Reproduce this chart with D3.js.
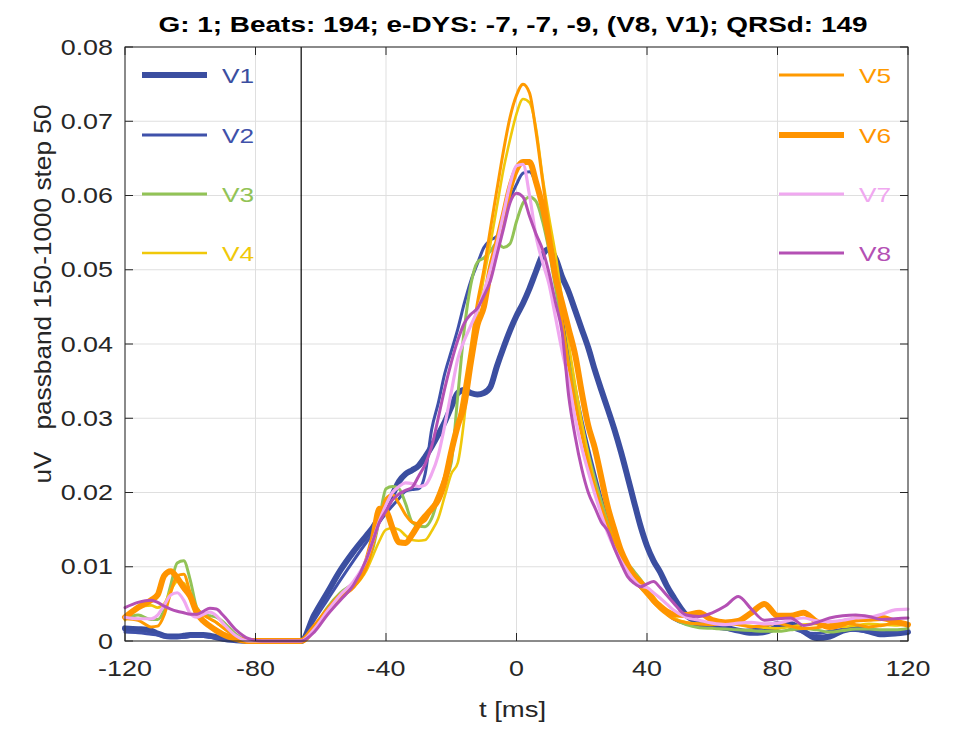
<!DOCTYPE html>
<html><head><meta charset="utf-8">
<script src="https://cdn.jsdelivr.net/npm/d3@7"></script>
<style>body{margin:0;background:#fff}svg{display:block}text{font-family:"Liberation Sans",Arial,Helvetica,sans-serif}</style>
</head><body><svg id="c" width="963" height="729"></svg>
<script>
const title = "G: 1; Beats: 194; e-DYS: -7, -7, -9, (V8, V1); QRSd: 149";
const xLabel = "t [ms]";
const yLabel = "uV   passband 150-1000 step 50";
const xTicks = [-120, -80, -40, 0, 40, 80, 120];
const yTicks = [0, 0.01, 0.02, 0.03, 0.04, 0.05, 0.06, 0.07, 0.08];
const markerT = -66;
const leads = ["V1","V2","V3","V4","V5","V6","V7","V8"];
const colors = ["#3b4ea0","#3f51aa","#92c356","#f0c80a","#ff9a00","#ff9400","#f0a8f0","#b450b4"];
const widths = [6, 3, 3, 2.6, 3, 6, 3.2, 3];
const t = [-120,-116,-112,-110,-108,-106,-104,-102,-100,-98,-96,-94,-92,-90,-86,-82,-78,-70,-66,-62,-58,-54,-50,-46,-44,-42,-40,-38,-36,-34,-32,-30,-28,-26,-24,-22,-20,-18,-16,-14,-12,-10,-8,-6,-4,-2,0,2,4,6,8,10,12,14,16,18,20,22,24,26,28,30,32,34,36,38,40,42,44,46,48,52,56,60,64,68,72,76,80,84,88,92,96,100,104,108,112,116,120];
const V1 = [0.0017,0.0016,0.0014,0.0010,0.0007,0.0006,0.0006,0.0007,0.0008,0.0008,0.0008,0.0007,0.0005,0.0003,0.0001,0,0,0,0,0.0035,0.0065,0.0095,0.012,0.0142,0.0153,0.0167,0.018,0.0197,0.0215,0.0225,0.023,0.0236,0.0248,0.0262,0.0278,0.0295,0.0315,0.0334,0.0338,0.0334,0.0332,0.0334,0.0342,0.037,0.0395,0.0418,0.0438,0.0455,0.0475,0.0498,0.052,0.0528,0.0515,0.049,0.047,0.0445,0.042,0.0395,0.0365,0.0338,0.0312,0.0285,0.0255,0.0222,0.0188,0.0155,0.0128,0.0108,0.0093,0.0075,0.006,0.0035,0.0025,0.0021,0.0018,0.0014,0.0011,0.0012,0.0019,0.0023,0.0013,0.0004,0.0006,0.0014,0.0017,0.0013,0.0009,0.001,0.0012];
const V2 = [0.0012,0.0011,0.0009,0.0008,0.0006,0.0005,0.0005,0.0005,0.0006,0.0006,0.0006,0.0005,0.0004,0.0002,0.0001,0,0,0,0,0.0028,0.0055,0.0082,0.0108,0.0133,0.0145,0.016,0.0172,0.0182,0.0192,0.0202,0.0204,0.0205,0.0225,0.0285,0.032,0.036,0.039,0.042,0.0455,0.0485,0.0508,0.053,0.054,0.0545,0.0565,0.0595,0.0615,0.063,0.0632,0.0615,0.058,0.0535,0.0485,0.0435,0.0385,0.034,0.0298,0.026,0.0225,0.0192,0.0163,0.0135,0.0112,0.0095,0.0082,0.0072,0.0064,0.0055,0.0045,0.0037,0.003,0.0023,0.0021,0.0018,0.0016,0.0014,0.0015,0.0019,0.0025,0.0018,0.0012,0.001,0.0013,0.0015,0.0014,0.0012,0.0011,0.0012,0.0014];
const V3 = [0.003,0.0035,0.0029,0.0029,0.0042,0.0075,0.0105,0.0108,0.0082,0.0045,0.0036,0.0034,0.0032,0.0026,0.0009,0,0,0,0,0.0018,0.0045,0.0065,0.0078,0.0102,0.0125,0.0165,0.0205,0.0208,0.0205,0.0185,0.016,0.0155,0.0154,0.0165,0.0192,0.0215,0.024,0.033,0.042,0.048,0.051,0.0516,0.0525,0.0536,0.053,0.0535,0.0565,0.059,0.0598,0.0592,0.0565,0.0525,0.0475,0.0425,0.0375,0.0332,0.029,0.0252,0.0218,0.0188,0.016,0.0138,0.012,0.0105,0.0094,0.0083,0.0071,0.0058,0.0047,0.0038,0.0031,0.0022,0.0018,0.0017,0.0016,0.0015,0.0014,0.0013,0.0013,0.0015,0.0017,0.0015,0.0012,0.0014,0.0016,0.0016,0.0015,0.0015,0.0017];
const V4 = [0.0028,0.0045,0.0048,0.0045,0.005,0.0068,0.008,0.0078,0.0062,0.0045,0.0035,0.003,0.0025,0.0018,0.0006,0,0,0,0,0.0015,0.004,0.006,0.0072,0.0095,0.0115,0.0135,0.015,0.0152,0.015,0.0142,0.0136,0.0135,0.0136,0.0148,0.0165,0.0195,0.0225,0.024,0.030,0.039,0.044,0.049,0.0535,0.0585,0.0635,0.0675,0.071,0.073,0.0725,0.069,0.0625,0.057,0.052,0.046,0.040,0.0345,0.0295,0.025,0.021,0.0178,0.0155,0.0135,0.0118,0.0104,0.0092,0.0082,0.0072,0.006,0.0048,0.0039,0.0032,0.0025,0.0023,0.0023,0.0024,0.0022,0.002,0.0018,0.0017,0.0019,0.0022,0.0023,0.002,0.0019,0.0021,0.0023,0.0022,0.0021,0.0022];
const V5 = [0.003,0.0028,0.0019,0.002,0.0035,0.0065,0.0088,0.009,0.0065,0.0044,0.0036,0.003,0.0025,0.0018,0.0006,0,0,0,0,0.0018,0.0042,0.0062,0.0078,0.0105,0.013,0.0165,0.0192,0.0197,0.0185,0.017,0.016,0.0158,0.0162,0.0178,0.0198,0.0222,0.025,0.029,0.034,0.0395,0.0455,0.05,0.0555,0.0608,0.066,0.0705,0.0735,0.075,0.0738,0.0685,0.062,0.0555,0.0495,0.043,0.037,0.032,0.0278,0.024,0.0208,0.018,0.0155,0.0132,0.0112,0.0096,0.0083,0.0072,0.0062,0.0052,0.0043,0.0036,0.003,0.0025,0.0023,0.0022,0.0024,0.0022,0.0019,0.0021,0.0024,0.002,0.0017,0.0018,0.0022,0.0025,0.0022,0.0019,0.0021,0.0024,0.0022];
const V6 = [0.0032,0.0045,0.0055,0.0062,0.0088,0.0094,0.0085,0.0072,0.006,0.0038,0.0027,0.002,0.0014,0.0009,0.0003,0,0,0,0,0.0018,0.004,0.006,0.0075,0.0105,0.0138,0.0178,0.0175,0.0152,0.0133,0.0132,0.0143,0.0157,0.0168,0.0178,0.019,0.0215,0.0255,0.029,0.0318,0.0375,0.0425,0.045,0.05,0.0535,0.0572,0.061,0.0635,0.0645,0.0645,0.0618,0.0585,0.054,0.049,0.0455,0.042,0.0385,0.0335,0.029,0.026,0.022,0.018,0.015,0.0122,0.0103,0.0088,0.0079,0.0067,0.0055,0.0047,0.004,0.0036,0.0035,0.0038,0.0028,0.0025,0.0027,0.0038,0.005,0.0034,0.0034,0.0038,0.0026,0.0019,0.0023,0.0029,0.003,0.0031,0.0026,0.0022];
const V7 = [0.0032,0.003,0.003,0.0035,0.0048,0.0062,0.0065,0.0055,0.0037,0.0032,0.0036,0.0039,0.0034,0.0024,0.0007,0,0,0,0,0.0016,0.004,0.0062,0.008,0.011,0.0135,0.0162,0.0183,0.02,0.0208,0.0213,0.0212,0.0208,0.021,0.0225,0.025,0.029,0.0335,0.038,0.0405,0.0425,0.0445,0.047,0.05,0.0535,0.0575,0.0615,0.064,0.0642,0.060,0.0545,0.051,0.048,0.0435,0.039,0.035,0.030,0.026,0.0228,0.0198,0.017,0.0145,0.0125,0.0108,0.0094,0.0082,0.0074,0.0072,0.0065,0.0058,0.005,0.0042,0.0032,0.0028,0.0024,0.0022,0.0024,0.0025,0.0023,0.0024,0.0028,0.0031,0.0027,0.0026,0.0028,0.0031,0.0032,0.0036,0.0042,0.0043];
const V8 = [0.0045,0.0052,0.0055,0.0052,0.0047,0.0043,0.004,0.0038,0.0036,0.0036,0.004,0.0044,0.0043,0.0035,0.0015,0.0003,0,0,0,0.0012,0.0035,0.0055,0.0075,0.011,0.0135,0.016,0.0175,0.019,0.0198,0.0203,0.0207,0.0222,0.0238,0.0262,0.030,0.034,0.0375,0.0405,0.0428,0.044,0.0448,0.0465,0.0485,0.052,0.0555,0.059,0.0603,0.0598,0.0572,0.0548,0.0527,0.0495,0.0455,0.0415,0.033,0.0275,0.0232,0.020,0.018,0.016,0.0148,0.0125,0.0105,0.0087,0.0078,0.0073,0.0077,0.008,0.0072,0.0062,0.0052,0.0035,0.0033,0.0038,0.0047,0.006,0.0043,0.0028,0.003,0.0031,0.0021,0.0025,0.0031,0.0034,0.0035,0.0033,0.0029,0.003,0.0031];
const series = [V1,V2,V3,V4,V5,V6,V7,V8];

const svg = d3.select("#c");
const L = 125, R = 908, T = 47, B = 641, SX = 1.25;
const x = d3.scaleLinear().domain([-120, 120]).range([L, R]);
const y = d3.scaleLinear().domain([0, 0.08]).range([B, T]);
const axisCol = "#262626";

// grid
svg.append("g").selectAll("line").data(xTicks).join("line")
  .attr("x1", d => x(d)).attr("x2", d => x(d)).attr("y1", T).attr("y2", B)
  .attr("stroke", "#dfdfdf").attr("stroke-width", 1);
svg.append("g").selectAll("line").data(yTicks).join("line")
  .attr("x1", L).attr("x2", R).attr("y1", d => y(d)).attr("y2", d => y(d))
  .attr("stroke", "#dfdfdf").attr("stroke-width", 1);

// marker line
svg.append("line").attr("x1", x(markerT)).attr("x2", x(markerT)).attr("y1", T).attr("y2", B)
  .attr("stroke", "#000").attr("stroke-width", 1.2);

// lines
const line = d3.line().x((d, i) => x(t[i])).y(d => y(d)).curve(d3.curveMonotoneX);
const plot = svg.append("g");
series.forEach((s, k) => {
  plot.append("path").attr("d", line(s)).attr("fill", "none")
    .attr("stroke", colors[k]).attr("stroke-width", widths[k])
    .attr("stroke-linejoin", "round").attr("stroke-linecap", "round");
});

// box + ticks
svg.append("rect").attr("x", L).attr("y", T).attr("width", R - L).attr("height", B - T)
  .attr("fill", "none").attr("stroke", axisCol).attr("stroke-width", 1);
const tk = svg.append("g").attr("stroke", axisCol).attr("stroke-width", 1);
xTicks.forEach(v => {
  tk.append("line").attr("x1", x(v)).attr("x2", x(v)).attr("y1", B).attr("y2", B - 8);
  tk.append("line").attr("x1", x(v)).attr("x2", x(v)).attr("y1", T).attr("y2", T + 8);
});
yTicks.forEach(v => {
  tk.append("line").attr("x1", L).attr("x2", L + 8).attr("y1", y(v)).attr("y2", y(v));
  tk.append("line").attr("x1", R).attr("x2", R - 8).attr("y1", y(v)).attr("y2", y(v));
});

// tick labels
svg.append("g").selectAll("text").data(xTicks).join("text")
  .attr("transform", d => `translate(${x(d)},${B + 35}) scale(${SX},1)`)
  .attr("text-anchor", "middle").attr("font-size", 21.5).attr("fill", axisCol)
  .text(d => d);
svg.append("g").selectAll("text").data(yTicks).join("text")
  .attr("transform", d => `translate(${L - 12},${y(d) + 7.5}) scale(${SX},1)`)
  .attr("text-anchor", "end").attr("font-size", 21.5).attr("fill", axisCol)
  .text(d => d === 0 ? "0" : d3.format(".2f")(d));

// axis labels
svg.append("text").attr("transform", `translate(${(L + R) / 2 - 4},717) scale(${SX},1)`)
  .attr("text-anchor", "middle").attr("font-size", 22).attr("fill", axisCol).text(xLabel);
svg.append("text").attr("transform", `translate(51,294) rotate(-90) scale(1.14,1)`)
  .attr("text-anchor", "middle").attr("font-size", 23).attr("fill", axisCol)
  .style("white-space", "pre").text(yLabel);

// title
svg.append("text").attr("transform", `translate(513,32) scale(1.27,1)`)
  .attr("text-anchor", "middle").attr("font-size", 22).attr("font-weight", "bold")
  .attr("fill", "#000").text(title);

// legend
const legY = [75, 135, 194, 253];
leads.forEach((name, k) => {
  const col = k < 4 ? 0 : 1;
  const yy = legY[k % 4];
  const x0 = col === 0 ? 142 : 779;
  svg.append("line").attr("x1", x0).attr("x2", x0 + 65).attr("y1", yy).attr("y2", yy)
    .attr("stroke", colors[k]).attr("stroke-width", widths[k]);
  svg.append("text").attr("transform", `translate(${x0 + 80},${yy + 7.5}) scale(${SX},1)`)
    .attr("font-size", 21).attr("fill", colors[k]).text(name);
});
</script></body></html>
